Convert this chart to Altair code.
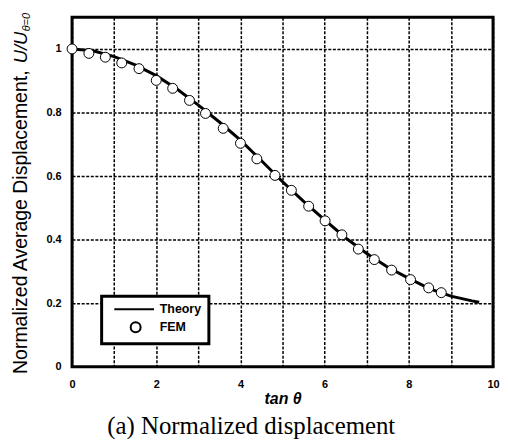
import altair as alt
import pandas as pd

# FEM results
fem_x = [0.0, 0.40, 0.79, 1.18, 1.59, 2.00, 2.39, 2.79, 3.17, 3.59, 4.00, 4.39,
         4.82, 5.21, 5.62, 6.01, 6.41, 6.80, 7.18, 7.59, 8.04, 8.47, 8.77]
fem_y = [1.0, 0.986, 0.974, 0.956, 0.938, 0.901, 0.876, 0.838, 0.797, 0.750, 0.703, 0.654,
         0.602, 0.555, 0.505, 0.459, 0.415, 0.370, 0.337, 0.304, 0.274, 0.248, 0.233]

# Theory curve
theory_x = [0.0, 0.5, 1.0, 1.5, 2.0, 2.5, 3.0, 3.5, 4.0, 4.5, 5.0, 5.5, 6.0,
            6.5, 7.0, 7.5, 8.0, 8.5, 9.0, 9.5, 9.67]
theory_y = [1.0, 0.994, 0.976, 0.950, 0.916, 0.873, 0.823, 0.770, 0.713, 0.648, 0.582, 0.520, 0.462,
            0.405, 0.356, 0.313, 0.278, 0.245, 0.222, 0.207, 0.203]

series_names = ["Theory", "FEM"]
x_ticks = list(range(11))
y_ticks = [round(i * 0.1, 1) for i in range(12)]

caption = "(a) Normalized displacement"
ytitle_main = "Normalized Average Displacement,"
ytitle_var = "U/U"
ytitle_sub = "θ=0"

fem = pd.DataFrame({"x": fem_x, "y": fem_y, "series": "FEM"})
theory = pd.DataFrame({"x": theory_x, "y": theory_y, "series": "Theory"})
one = pd.DataFrame({"d": [0]})

W, H = 424, 352
FONT = "Liberation Sans"

xscale = alt.Scale(domain=[0, 10], nice=False, zero=False)
yscale = alt.Scale(domain=[0, 1.1], nice=False, zero=False)

grid_kw = dict(grid=True, gridColor="black", gridDash=[3, 1.6], gridWidth=1.5,
               ticks=False, domain=False, labelColor="black", labelFont=FONT,
               labelFontWeight="bold", labelFontSize=11, labelFlush=False,
               labelOverlap=False)

xaxis = alt.Axis(values=x_ticks,
                 labelExpr="datum.value % 2 == 0 ? format(datum.value, '~g') : ''",
                 labelPadding=12, title="tan θ", titleFont=FONT, titleFontSize=16,
                 titleFontStyle="italic", titleFontWeight="bold", titleColor="black",
                 titlePadding=1, **grid_kw)
yaxis = alt.Axis(values=y_ticks,
                 labelExpr="round(datum.value * 10) % 2 == 0 ? format(datum.value, '~g') : ''",
                 labelPadding=11, title=None, **grid_kw)

theory_path = "M -4.3 0 L 3.7 0"

line = alt.Chart(theory).mark_line(color="black", strokeWidth=3).encode(
    x=alt.X("x:Q", scale=xscale, axis=xaxis),
    y=alt.Y("y:Q", scale=yscale, axis=yaxis),
)

points = alt.Chart(fem).mark_point(filled=False, fill="white", stroke="black",
                                   strokeWidth=1, size=100, opacity=1).encode(
    x=alt.X("x:Q", scale=xscale),
    y=alt.Y("y:Q", scale=yscale),
    shape=alt.Shape("series:N",
                    scale=alt.Scale(domain=series_names, range=[theory_path, "circle"]),
                    legend=alt.Legend(title=None, orient="none", legendX=29.8, legendY=281,
                                      strokeColor="black", fillColor="white", padding=7,
                                      labelFont=FONT, labelFontSize=12.5,
                                      labelFontWeight="bold", labelColor="black",
                                      symbolSize=100, symbolStrokeWidth=2,
                                      symbolOffset=21, labelOffset=18, rowPadding=2)),
)

t_main = alt.Chart(one).mark_text(angle=270, align="left", baseline="middle", font=FONT,
                                  fontSize=19.6, color="black").encode(
    x=alt.value(-51), y=alt.value(359.3), text=alt.value(ytitle_main))
t_var = alt.Chart(one).mark_text(angle=270, align="left", baseline="middle", font=FONT,
                                 fontSize=18.5, fontStyle="italic", color="black").encode(
    x=alt.value(-51), y=alt.value(46.5), text=alt.value(ytitle_var))
t_sub = alt.Chart(one).mark_text(angle=270, align="left", baseline="middle", font=FONT,
                                 fontSize=11, fontStyle="italic", color="black").encode(
    x=alt.value(-45), y=alt.value(14.3), text=alt.value(ytitle_sub))
t_cap = alt.Chart(one).mark_text(align="center", baseline="alphabetic",
                                 font="Liberation Serif", fontSize=25, color="black").encode(
    x=alt.value(180.5), y=alt.value(420), text=alt.value(caption))

chart = alt.layer(line, points, t_main, t_var, t_sub, t_cap).properties(
    width=W, height=H,
    autosize=alt.AutoSizeParams(type="none"),
    padding={"left": 64.5, "top": 7.7, "right": 8, "bottom": 71.3},
    background="white",
).configure_view(stroke="black", strokeWidth=3).configure_legend(strokeWidth=3)

chart.save("out.html", embed_options={"renderer": "svg", "actions": False})
